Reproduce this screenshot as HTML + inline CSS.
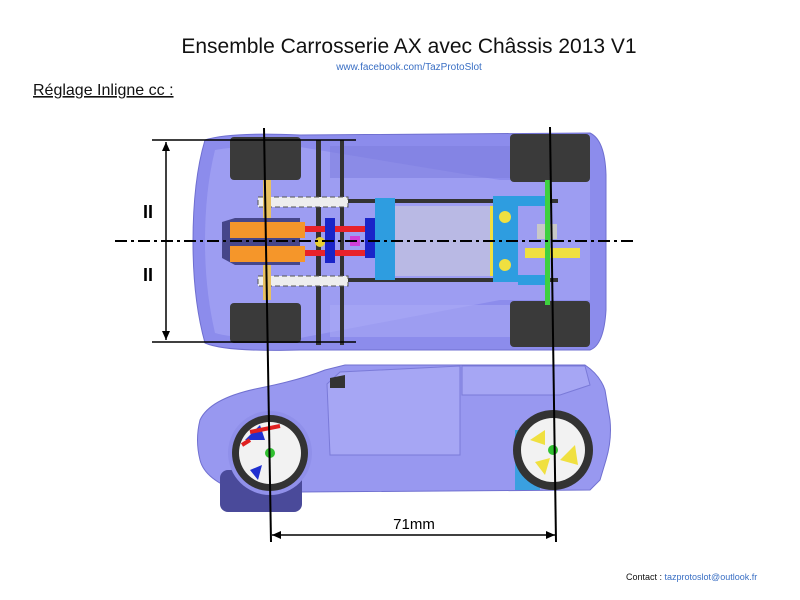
<!DOCTYPE html>
<html><head><meta charset="utf-8"><style>
body{margin:0;background:#fff;width:800px;height:600px;overflow:hidden}
svg{display:block}
text{font-family:"Liberation Sans",sans-serif}
</style></head><body>
<svg width="800" height="600" viewBox="0 0 800 600">
<text x="409" y="53" font-size="21" text-anchor="middle" fill="#111">Ensemble Carrosserie AX avec Châssis 2013 V1</text>
<text x="409" y="70" font-size="10" text-anchor="middle" fill="#3a6fc4">www.facebook.com/TazProtoSlot</text>
<text x="33" y="95" font-size="16" fill="#111" text-decoration="underline">Réglage Inligne cc :</text>

<!-- top view body -->
<path d="M205,140 Q230,132 300,135 L590,133 Q605,140 606,175 L606,310 Q604,345 590,350 L300,350 Q225,352 205,343 Q193,300 193,242 Q193,180 205,140Z" fill="#8c8cec" stroke="#6f6fd0"/>
<path d="M215,150 Q240,145 300,147 L500,180 L590,180 L590,300 L500,300 L300,338 Q240,340 215,333 Q205,290 205,242 Q205,190 215,150Z" fill="#9d9df2"/>
<rect x="330" y="146" width="180" height="32" fill="#7e7ee0" opacity=".6"/>
<rect x="330" y="305" width="180" height="32" fill="#a8a8f5" opacity=".6"/>
<!-- wheels -->
<rect x="230" y="137" width="71" height="43" rx="4" fill="#3a3a3a"/>
<rect x="510" y="134" width="80" height="48" rx="4" fill="#3a3a3a"/>
<rect x="230" y="303" width="71" height="40" rx="4" fill="#3a3a3a"/>
<rect x="510" y="301" width="80" height="46" rx="4" fill="#3a3a3a"/>
<!-- chassis -->
<rect x="316" y="140" width="5" height="205" fill="#333"/>
<rect x="340" y="140" width="4" height="205" fill="#333"/>
<rect x="258" y="199" width="300" height="4" fill="#333"/>
<rect x="258" y="278" width="300" height="4" fill="#333"/>
<rect x="258" y="197" width="90" height="10" fill="#eee" stroke="#555" stroke-dasharray="5 3"/>
<rect x="258" y="276" width="90" height="10" fill="#eee" stroke="#555" stroke-dasharray="5 3"/>
<rect x="263" y="180" width="8" height="120" fill="#e8c060"/>
<path d="M222,222 L235,218 L300,218 L300,265 L235,265 L222,258Z" fill="#46468a"/>
<rect x="230" y="222" width="75" height="16" fill="#f5962a"/>
<rect x="230" y="246" width="75" height="16" fill="#f5962a"/>
<rect x="305" y="226" width="70" height="6" fill="#e8222a"/>
<rect x="305" y="250" width="70" height="6" fill="#e8222a"/>
<rect x="325" y="218" width="10" height="45" fill="#1a24c8"/>
<circle cx="320" cy="242" r="5" fill="#e8d030"/>
<rect x="365" y="218" width="25" height="40" fill="#1a24c8"/>
<rect x="350" y="236" width="10" height="10" fill="#d040d8"/>
<rect x="375" y="198" width="20" height="82" fill="#2e9de0"/>
<rect x="395" y="206" width="100" height="70" fill="#b9b9e4"/>
<rect x="490" y="206" width="5" height="70" fill="#f0e040"/>
<rect x="493" y="196" width="25" height="86" fill="#2e9de0"/>
<rect x="518" y="196" width="30" height="10" fill="#2e9de0"/>
<rect x="518" y="275" width="30" height="10" fill="#2e9de0"/>
<circle cx="505" cy="217" r="6" fill="#f0e040"/>
<circle cx="505" cy="265" r="6" fill="#f0e040"/>
<rect x="525" y="248" width="55" height="10" fill="#f0e040"/>
<rect x="537" y="224" width="20" height="15" fill="#c8c8c8"/>
<rect x="545" y="180" width="5" height="125" fill="#3ed040"/>
<!-- side view -->
<path d="M200,420 Q210,398 260,388 Q300,380 325,370 L345,365 L585,365 Q600,375 605,390 L610,420 Q612,440 606,460 L600,480 L590,490 L300,492 L240,492 Q205,480 200,460 Q195,440 200,420Z" fill="#9898f0" stroke="#7070d0"/>
<path d="M327,384 L340,372 L460,366 L460,455 L330,455Z" fill="#a6a6f4" stroke="#7a7ad8" stroke-width="1"/>
<path d="M462,366 L585,366 L590,385 L560,395 L462,395Z" fill="#a6a6f4" stroke="#7a7ad8" stroke-width="1"/>
<path d="M330,378 L345,375 L345,388 L330,388Z" fill="#333"/>
<rect x="220" y="470" width="82" height="42" rx="8" fill="#4a4a9a"/>
<circle cx="270" cy="453" r="42" fill="#9090ea"/>
<circle cx="270" cy="453" r="38" fill="#333"/>
<circle cx="270" cy="453" r="31" fill="#f2f2f2"/>
<path d="M245,440 L260,425 L265,440Z M250,470 L262,465 L258,480Z" fill="#2030d0"/>
<path d="M250,432 L280,426 M242,445 L250,440" stroke="#e02020" stroke-width="4"/>
<circle cx="270" cy="453" r="5" fill="#30c030"/>
<rect x="515" y="430" width="25" height="60" fill="#3aa0e0"/>
<circle cx="553" cy="450" r="40" fill="#333"/>
<circle cx="553" cy="450" r="32" fill="#f2f2f2"/>
<path d="M530,440 L545,430 L545,445Z M560,460 L575,445 L578,465Z M535,462 L550,458 L545,475Z" fill="#f0e040"/>
<circle cx="553" cy="450" r="5" fill="#30c030"/>
<!-- lines -->
<line x1="264" y1="128" x2="271" y2="542" stroke="#000" stroke-width="2"/>
<line x1="550" y1="127" x2="556" y2="542" stroke="#000" stroke-width="2"/>
<line x1="115" y1="241" x2="635" y2="241" stroke="#000" stroke-width="2" stroke-dasharray="12 4 3 4"/>
<line x1="152" y1="140" x2="356" y2="140" stroke="#000" stroke-width="1.5"/>
<line x1="152" y1="342" x2="356" y2="342" stroke="#000" stroke-width="1.5"/>
<line x1="166" y1="142" x2="166" y2="340" stroke="#000" stroke-width="1.5"/>
<path d="M166,142 l-4,9 l8,0Z M166,340 l-4,-9 l8,0Z" fill="#000"/>
<text x="148" y="218" font-size="18" font-weight="bold" text-anchor="middle">II</text>
<text x="148" y="281" font-size="18" font-weight="bold" text-anchor="middle">II</text>
<line x1="272" y1="535" x2="555" y2="535" stroke="#000" stroke-width="1.5"/>
<path d="M272,535 l9,-4 l0,8Z M555,535 l-9,-4 l0,8Z" fill="#000"/>
<text x="414" y="529" font-size="15" text-anchor="middle">71mm</text>
<text x="626" y="580" font-size="9" fill="#111">Contact : <tspan fill="#3a6fc4">tazprotoslot@outlook.fr</tspan></text>
</svg>
</body></html>
